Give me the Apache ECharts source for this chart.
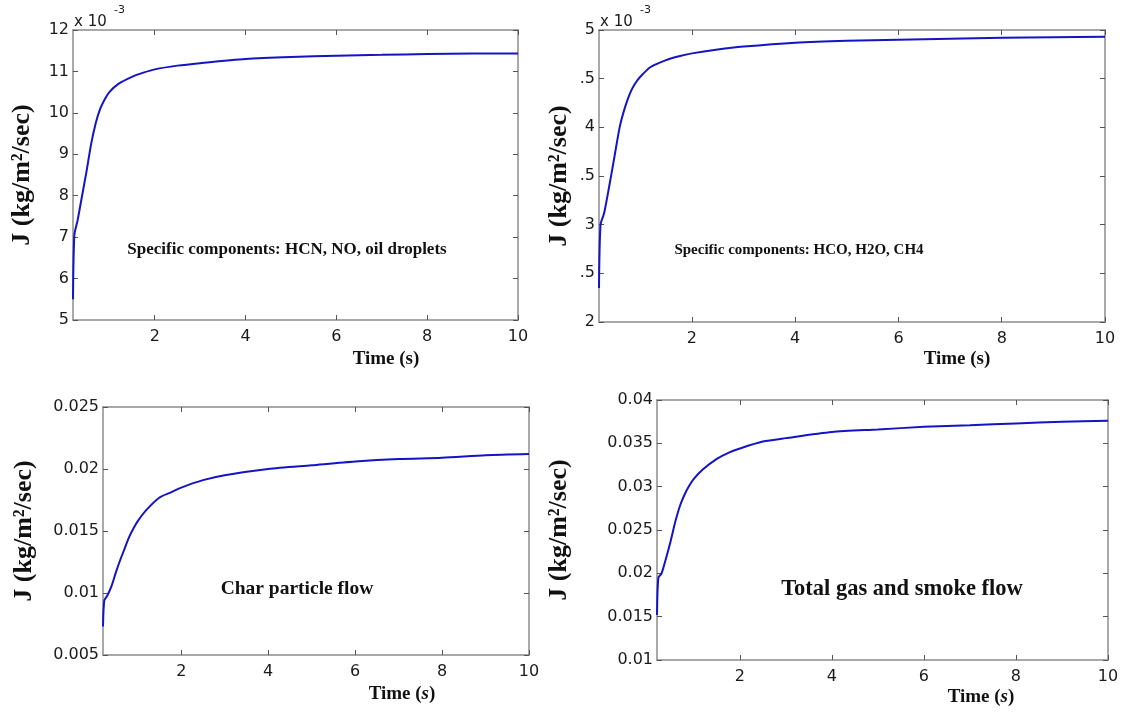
<!DOCTYPE html>
<html>
<head>
<meta charset="utf-8">
<script src="https://cdn.jsdelivr.net/npm/echarts@6/dist/echarts.min.js"></script>
<style>html,body{margin:0;padding:0;background:#fff;}#c{width:1128px;height:712px;}</style>
</head>
<body>
<div id="c"></div>
<script>
// Time samples (s), shared by all four panels
const timeS = [0.2, 0.23, 0.3, 0.4, 0.5, 0.6, 0.7, 0.8, 0.9, 1.0, 1.2, 1.5, 1.75, 2.0, 2.5, 3.0, 4.0, 5.0, 6.0, 7.0, 8.0, 9.0, 10.0];
// Panel values
const hcnNoOil = [5.5, 7.05, 7.4, 8.0, 8.6, 9.25, 9.75, 10.1, 10.33, 10.5, 10.7, 10.87, 10.97, 11.05, 11.14, 11.2, 11.3, 11.35, 11.38, 11.4, 11.42, 11.43, 11.43]; // x 10^-3
const hcoH2oCh4 = [2.35, 3.0, 3.12, 3.4, 3.7, 4.0, 4.2, 4.35, 4.45, 4.52, 4.62, 4.69, 4.73, 4.76, 4.8, 4.83, 4.87, 4.89, 4.9, 4.91, 4.92, 4.925, 4.93]; // x 10^-3
const charFlow = [0.0073, 0.0094, 0.0098, 0.0106, 0.0117, 0.0127, 0.0136, 0.0145, 0.0152, 0.0158, 0.0167, 0.0177, 0.0181, 0.0185, 0.0191, 0.0195, 0.0200, 0.0203, 0.0206, 0.0208, 0.0209, 0.0211, 0.0212];
const gasSmoke = [0.0152, 0.0195, 0.0200, 0.0218, 0.0238, 0.0260, 0.0278, 0.0291, 0.0301, 0.0309, 0.0320, 0.0332, 0.0339, 0.0344, 0.0352, 0.0356, 0.0363, 0.0366, 0.0369, 0.0371, 0.0373, 0.0375, 0.0376];
// Tick values
const xTicks = [2, 4, 6, 8, 10];
const yRanges = [
  {min: 5, max: 12, interval: 1},
  {min: 2, max: 5, interval: 0.5},
  {min: 0.005, max: 0.025, interval: 0.005},
  {min: 0.01, max: 0.04, interval: 0.005}
];
const panelNotes = ['Specific components: HCN, NO, oil droplets', 'Specific components: HCO, H2O, CH4', 'Char particle flow', 'Total gas and smoke flow'];
const yTitle = 'J (kg/m²/sec)';
const xTitle = 'Time (s)';

const grids = [
  {left: 73, top: 30, width: 445, height: 290},
  {left: 599, top: 30, width: 506, height: 292},
  {left: 103, top: 407, width: 426, height: 248},
  {left: 657, top: 400, width: 451, height: 260}
];
const nameGaps = [38, 27, 66, 85];
const series = [hcnNoOil, hcoH2oCh4, charFlow, gasSmoke];

const boxColor = '#8c8c8c';
const tickFont = {fontFamily: 'DejaVu Sans', fontSize: 16, color: '#1a1a1a'};

const xAxis = [], yAxis = [], seriesList = [];
grids.forEach((g, i) => {
  xAxis.push({
    gridIndex: i, type: 'value', min: 0.2, max: 10, position: 'bottom',
    axisLine: {show: true, onZero: false, lineStyle: {color: boxColor, width: 1.5}},
    axisTick: {show: true, inside: true, length: 5, customValues: xTicks, lineStyle: {color: '#555'}},
    axisLabel: Object.assign({customValues: xTicks, margin: 9}, tickFont),
    splitLine: {show: false}
  });
  xAxis.push({
    gridIndex: i, type: 'value', min: 0.2, max: 10, position: 'top',
    axisLine: {show: true, onZero: false, lineStyle: {color: boxColor, width: 1.5}},
    axisTick: {show: true, inside: true, length: 5, customValues: xTicks, lineStyle: {color: '#555'}},
    axisLabel: {show: false}, splitLine: {show: false}
  });
  const r = yRanges[i];
  const yLabel = Object.assign({margin: 4}, tickFont);
  if (i === 1) yLabel.formatter = v => Number.isInteger(v) ? String(v) : '.5';
  yAxis.push({
    gridIndex: i, type: 'value', min: r.min, max: r.max, interval: r.interval, position: 'left',
    axisLine: {show: true, onZero: false, lineStyle: {color: boxColor, width: 1.5}},
    axisTick: {show: true, inside: true, length: 5, lineStyle: {color: '#555'}},
    axisLabel: yLabel,
    splitLine: {show: false},
    name: yTitle, nameLocation: 'middle', nameRotate: 90, nameGap: nameGaps[i],
    nameTextStyle: {fontFamily: 'Liberation Serif', fontWeight: 'bold', fontSize: 26, color: '#111'}
  });
  yAxis.push({
    gridIndex: i, type: 'value', min: r.min, max: r.max, interval: r.interval, position: 'right',
    axisLine: {show: true, onZero: false, lineStyle: {color: boxColor, width: 1.5}},
    axisTick: {show: true, inside: true, length: 5, lineStyle: {color: '#555'}},
    axisLabel: {show: false}, splitLine: {show: false}
  });
  seriesList.push({
    type: 'line', xAxisIndex: 2 * i, yAxisIndex: 2 * i,
    data: timeS.map((t, k) => [t, series[i][k]]),
    showSymbol: false, smooth: 0.25,
    lineStyle: {color: '#1414c4', width: 2}
  });
});

const serifBold = {fontFamily: 'Liberation Serif', fontWeight: 'bold', fill: '#111'};
function xName(x, y, italicS) {
  return {
    type: 'text', x: x, y: y,
    style: Object.assign({
      text: italicS ? '{n|Time (}{i|s}{n|)}' : xTitle,
      rich: italicS ? {n: {fontFamily: 'Liberation Serif', fontWeight: 'bold', fontSize: 19, color: '#111'},
                       i: {fontFamily: 'Liberation Serif', fontWeight: 'bold', fontStyle: 'italic', fontSize: 19, color: '#111'}} : undefined,
      fontSize: 19, align: 'center', verticalAlign: 'middle'
    }, serifBold)
  };
}
function note(x, y, text, size) {
  return {type: 'text', x: x, y: y, style: Object.assign({text: text, fontSize: size, align: 'center', verticalAlign: 'middle'}, serifBold)};
}
function expo(x) {
  return [
    {type: 'text', x: x, y: 22, style: {text: 'x 10', fontFamily: 'DejaVu Sans', fontSize: 15, fill: '#1a1a1a', align: 'left', verticalAlign: 'middle'}},
    {type: 'text', x: x + 40, y: 10, style: {text: '-3', fontFamily: 'DejaVu Sans', fontSize: 11, fill: '#1a1a1a', align: 'left', verticalAlign: 'middle'}}
  ];
}

const graphic = [
  xName(386, 359, false), xName(957, 359, false), xName(402, 694, true), xName(981, 697, true),
  note(287, 250, panelNotes[0], 17), note(799, 250, panelNotes[1], 15), note(297, 589, panelNotes[2], 19.5), note(902, 589, panelNotes[3], 22.5)
].concat(expo(74), expo(600));

const chart = echarts.init(document.getElementById('c'), null, {renderer: 'canvas'});
chart.setOption({
  backgroundColor: '#ffffff',
  animation: false,
  grid: grids,
  xAxis: xAxis, yAxis: yAxis, series: seriesList, graphic: graphic
});
</script>
</body>
</html>
